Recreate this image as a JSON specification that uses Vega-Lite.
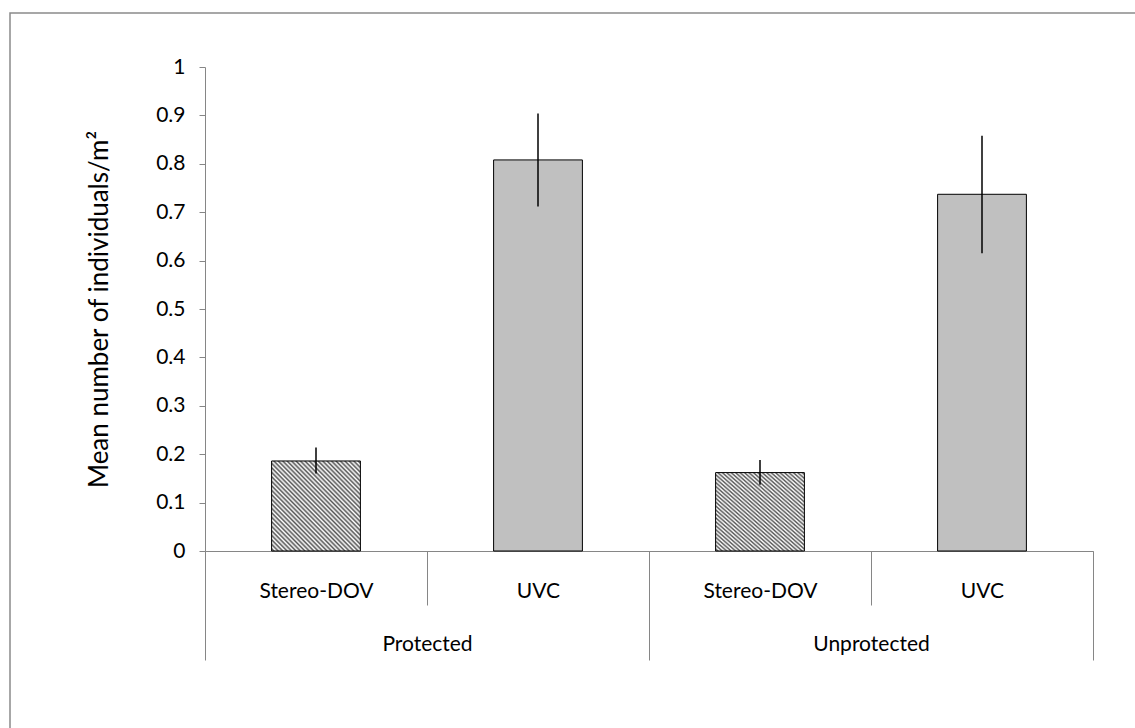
{
  "$schema": "https://vega.github.io/schema/vega-lite/v6.json",
  "autosize": "none",
  "padding": {"left": 10, "top": 13, "right": 0, "bottom": 0},
  "width": 1140,
  "height": 730,
  "background": "white",
  "config": {
    "view": {"stroke": "#8a8a8a", "strokeWidth": 1.5},
    "font": "Lato",
    "axis": {"labelFont": "Lato", "titleFont": "Lato", "labelColor": "black", "titleColor": "black", "grid": false}
  },
  "data": {
    "values": [
      {"group": "Protected", "method": "Stereo-DOV", "key": "Protected|Stereo-DOV", "mean": 0.186, "lo": 0.160, "hi": 0.214},
      {"group": "Protected", "method": "UVC", "key": "Protected|UVC", "mean": 0.808, "lo": 0.712, "hi": 0.904},
      {"group": "Unprotected", "method": "Stereo-DOV", "key": "Unprotected|Stereo-DOV", "mean": 0.162, "lo": 0.137, "hi": 0.188},
      {"group": "Unprotected", "method": "UVC", "key": "Unprotected|UVC", "mean": 0.737, "lo": 0.615, "hi": 0.858}
    ]
  },
  "resolve": {"axis": {"x": "independent", "y": "shared"}},
  "layer": [
    {
      "transform": [{"filter": "datum.method === 'UVC'"}],
      "mark": {"type": "bar", "width": {"band": 0.4}, "fill": "#c0c0c0", "stroke": "black", "strokeWidth": 1},
      "encoding": {
        "x": {
          "field": "key", "type": "nominal", "sort": null,
          "scale": {"domain": ["Protected|Stereo-DOV", "Protected|UVC", "Unprotected|Stereo-DOV", "Unprotected|UVC"], "range": [195, 1083], "paddingInner": 0, "paddingOuter": 0},
          "axis": {
            "orient": "bottom", "offset": -192, "title": null,
            "domainColor": "#868686", "domainWidth": 1,
            "tickBand": "extent", "tickSize": 109, "tickColor": "#868686", "tickWidth": 1,
            "tickOpacity": {"condition": {"test": "datum.label === 'Protected|Stereo-DOV' || datum.label === 'Unprotected|Stereo-DOV'", "value": 0}, "value": 1},
            "labelExpr": "datum.label === 'Protected|Stereo-DOV' ? 'Protected' : (datum.label === 'Unprotected|Stereo-DOV' ? 'Unprotected' : '')",
            "labelOffset": 111, "labelPadding": -27, "labelAngle": 0, "labelFontSize": 21, "labelBaseline": "top"
          }
        },
        "y": {
          "field": "mean", "type": "quantitative",
          "scale": {"domain": [0, 1], "range": [538, 54], "nice": false, "zero": true},
          "axis": {
            "orient": "left", "offset": -195,
            "title": "Mean number of individuals/m²", "titleFontSize": 26, "titleFontWeight": "normal", "titlePadding": 43,
            "values": [0, 0.1, 0.2, 0.3, 0.4, 0.5, 0.6, 0.7, 0.8, 0.9, 1], "format": "~g",
            "domainColor": "#868686", "tickColor": "#868686", "tickSize": 6,
            "labelFontSize": 21, "labelPadding": 14
          }
        }
      }
    },
    {
      "transform": [{"filter": "datum.method === 'Stereo-DOV'"}],
      "mark": {
        "type": "bar", "width": {"band": 0.4}, "stroke": "black", "strokeWidth": 1,
        "fill": {
          "gradient": "linear", "x1": 0, "y1": 1, "x2": 1, "y2": 0,
          "stops": [
            {"offset": 0, "color": "#ffffff"}, {"offset": 0.0125, "color": "#555555"},
            {"offset": 0.025, "color": "#ffffff"}, {"offset": 0.0375, "color": "#555555"},
            {"offset": 0.05, "color": "#ffffff"}, {"offset": 0.0625, "color": "#555555"},
            {"offset": 0.075, "color": "#ffffff"}, {"offset": 0.0875, "color": "#555555"},
            {"offset": 0.1, "color": "#ffffff"}, {"offset": 0.1125, "color": "#555555"},
            {"offset": 0.125, "color": "#ffffff"}, {"offset": 0.1375, "color": "#555555"},
            {"offset": 0.15, "color": "#ffffff"}, {"offset": 0.1625, "color": "#555555"},
            {"offset": 0.175, "color": "#ffffff"}, {"offset": 0.1875, "color": "#555555"},
            {"offset": 0.2, "color": "#ffffff"}, {"offset": 0.2125, "color": "#555555"},
            {"offset": 0.225, "color": "#ffffff"}, {"offset": 0.2375, "color": "#555555"},
            {"offset": 0.25, "color": "#ffffff"}, {"offset": 0.2625, "color": "#555555"},
            {"offset": 0.275, "color": "#ffffff"}, {"offset": 0.2875, "color": "#555555"},
            {"offset": 0.3, "color": "#ffffff"}, {"offset": 0.3125, "color": "#555555"},
            {"offset": 0.325, "color": "#ffffff"}, {"offset": 0.3375, "color": "#555555"},
            {"offset": 0.35, "color": "#ffffff"}, {"offset": 0.3625, "color": "#555555"},
            {"offset": 0.375, "color": "#ffffff"}, {"offset": 0.3875, "color": "#555555"},
            {"offset": 0.4, "color": "#ffffff"}, {"offset": 0.4125, "color": "#555555"},
            {"offset": 0.425, "color": "#ffffff"}, {"offset": 0.4375, "color": "#555555"},
            {"offset": 0.45, "color": "#ffffff"}, {"offset": 0.4625, "color": "#555555"},
            {"offset": 0.475, "color": "#ffffff"}, {"offset": 0.4875, "color": "#555555"},
            {"offset": 0.5, "color": "#ffffff"}, {"offset": 0.5125, "color": "#555555"},
            {"offset": 0.525, "color": "#ffffff"}, {"offset": 0.5375, "color": "#555555"},
            {"offset": 0.55, "color": "#ffffff"}, {"offset": 0.5625, "color": "#555555"},
            {"offset": 0.575, "color": "#ffffff"}, {"offset": 0.5875, "color": "#555555"},
            {"offset": 0.6, "color": "#ffffff"}, {"offset": 0.6125, "color": "#555555"},
            {"offset": 0.625, "color": "#ffffff"}, {"offset": 0.6375, "color": "#555555"},
            {"offset": 0.65, "color": "#ffffff"}, {"offset": 0.6625, "color": "#555555"},
            {"offset": 0.675, "color": "#ffffff"}, {"offset": 0.6875, "color": "#555555"},
            {"offset": 0.7, "color": "#ffffff"}, {"offset": 0.7125, "color": "#555555"},
            {"offset": 0.725, "color": "#ffffff"}, {"offset": 0.7375, "color": "#555555"},
            {"offset": 0.75, "color": "#ffffff"}, {"offset": 0.7625, "color": "#555555"},
            {"offset": 0.775, "color": "#ffffff"}, {"offset": 0.7875, "color": "#555555"},
            {"offset": 0.8, "color": "#ffffff"}, {"offset": 0.8125, "color": "#555555"},
            {"offset": 0.825, "color": "#ffffff"}, {"offset": 0.8375, "color": "#555555"},
            {"offset": 0.85, "color": "#ffffff"}, {"offset": 0.8625, "color": "#555555"},
            {"offset": 0.875, "color": "#ffffff"}, {"offset": 0.8875, "color": "#555555"},
            {"offset": 0.9, "color": "#ffffff"}, {"offset": 0.9125, "color": "#555555"},
            {"offset": 0.925, "color": "#ffffff"}, {"offset": 0.9375, "color": "#555555"},
            {"offset": 0.95, "color": "#ffffff"}, {"offset": 0.9625, "color": "#555555"},
            {"offset": 0.975, "color": "#ffffff"}, {"offset": 0.9875, "color": "#555555"},
            {"offset": 1, "color": "#ffffff"}
          ]
        }
      },
      "encoding": {
        "x": {
          "field": "key", "type": "nominal", "sort": null,
          "scale": {"domain": ["Protected|Stereo-DOV", "Protected|UVC", "Unprotected|Stereo-DOV", "Unprotected|UVC"], "range": [195, 1083], "paddingInner": 0, "paddingOuter": 0},
          "axis": {
            "orient": "bottom", "offset": -192, "title": null, "domain": false,
            "tickBand": "extent", "tickSize": 54, "tickColor": "#868686", "tickWidth": 1,
            "labelExpr": "indexof(datum.label, '|') >= 0 ? substring(datum.label, indexof(datum.label, '|') + 1) : ''",
            "labelPadding": -25, "labelAngle": 0, "labelFontSize": 21, "labelBaseline": "top"
          }
        },
        "y": {"field": "mean", "type": "quantitative", "scale": {"domain": [0, 1], "range": [538, 54], "nice": false, "zero": true}}
      }
    },
    {
      "mark": {"type": "rule", "stroke": "black", "strokeWidth": 1.5},
      "encoding": {
        "x": {
          "field": "key", "type": "nominal", "sort": null,
          "scale": {"domain": ["Protected|Stereo-DOV", "Protected|UVC", "Unprotected|Stereo-DOV", "Unprotected|UVC"], "range": [195, 1083], "paddingInner": 0, "paddingOuter": 0},
          "axis": null
        },
        "y": {"field": "lo", "type": "quantitative", "scale": {"domain": [0, 1], "range": [538, 54], "nice": false, "zero": true}},
        "y2": {"field": "hi"}
      }
    }
  ]
}
